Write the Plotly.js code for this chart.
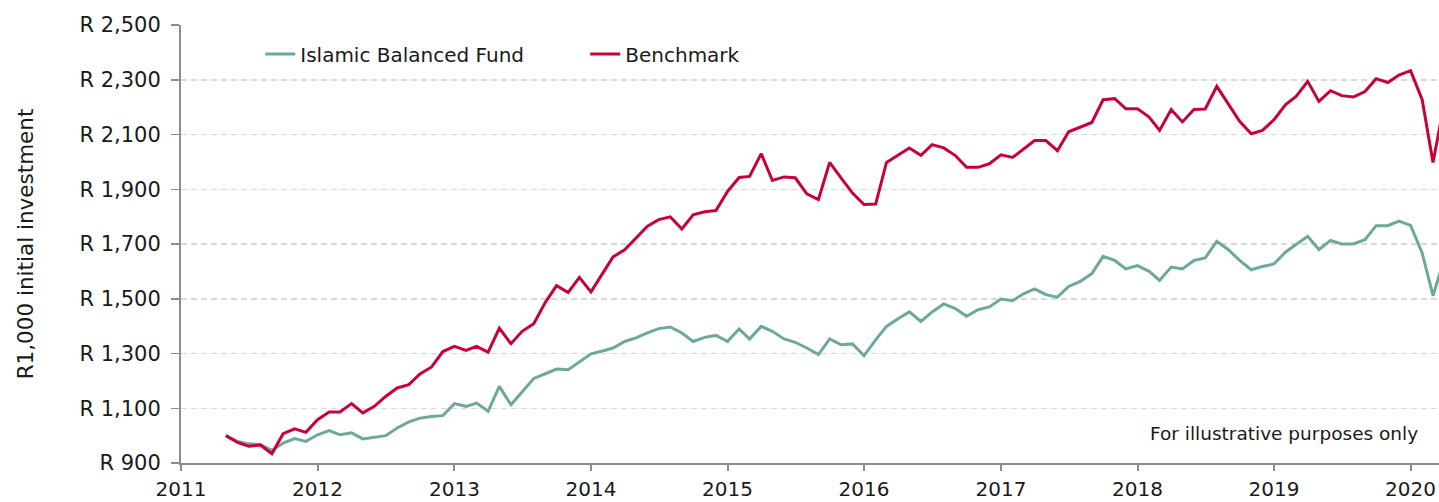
<!DOCTYPE html>
<html>
<head>
<meta charset="utf-8">
<script src="https://cdn.plot.ly/plotly-3.0.1.min.js"></script>
<style>
  html, body { margin: 0; padding: 0; background: #ffffff; }
  #chart { width: 1439px; height: 502px; }
</style>
</head>
<body>
<div id="chart"></div>
<script>
// Monthly series, May 2011 to April 2020
var startYear = 2011;
var startMonth = 5;

var fundName = "Islamic Balanced Fund";
var benchName = "Benchmark";

var fundValues = [
  1000, 979, 970, 967, 946, 973, 989, 979,
  1003, 1018, 1003, 1010, 988, 995, 1000, 1028, 1050, 1064, 1070, 1073,
  1117, 1107, 1119, 1089, 1180, 1113, 1162, 1209, 1226, 1243, 1241, 1271,
  1299, 1309, 1320, 1344, 1357, 1375, 1391, 1397, 1375, 1344, 1359, 1366,
  1344, 1390, 1353, 1399, 1381, 1353, 1341, 1320, 1296, 1353, 1332, 1335,
  1292, 1350, 1399, 1427, 1452, 1417, 1452, 1481, 1464, 1436, 1460, 1470,
  1499, 1493, 1517, 1536, 1515, 1506, 1545, 1563, 1592, 1655, 1640, 1609,
  1621, 1600, 1567, 1616, 1609, 1640, 1649, 1710, 1679, 1640, 1606, 1618,
  1627, 1671, 1697, 1728, 1679, 1713, 1700, 1700, 1716, 1767, 1767, 1784,
  1768, 1667, 1511, 1650
];

var benchValues = [
  1000, 975, 961, 966, 934, 1007, 1025, 1012,
  1058, 1086, 1086, 1117, 1083, 1107, 1143, 1174, 1186, 1225, 1251, 1307,
  1326, 1311, 1326, 1305, 1393, 1336, 1381, 1409, 1487, 1548, 1523, 1578,
  1525, 1594, 1653, 1679, 1722, 1765, 1789, 1799, 1755, 1807, 1818, 1822,
  1892, 1943, 1947, 2030, 1932, 1945, 1942, 1883, 1862, 1998, 1941, 1886,
  1844, 1846, 1998, 2026, 2051, 2024, 2063, 2051, 2023, 1980, 1980, 1993,
  2026, 2016, 2047, 2078, 2078, 2041, 2110, 2127, 2144, 2227, 2231, 2194,
  2194, 2164, 2115, 2191, 2146, 2191, 2193, 2276, 2213, 2148, 2103, 2115,
  2154, 2209, 2239, 2294, 2221, 2260, 2242, 2237, 2257, 2304, 2290, 2317,
  2333, 2227, 1998, 2220
];

var yTickValues = [900, 1100, 1300, 1500, 1700, 1900, 2100, 2300, 2500];
var yTickPrefix = "R ";
var yTitle = "R1,000 initial investment";
var noteText = "For illustrative purposes only";

// month dates for the x axis
var dates = [];
for (var i = 0; i < fundValues.length; i++) {
  var m0 = startMonth - 1 + i;
  var y = startYear + Math.floor(m0 / 12);
  var m = (m0 % 12) + 1;
  dates.push(y + "-" + (m < 10 ? "0" + m : m) + "-01");
}

// tick labels such as "R 2,500"
var yTickText = yTickValues.map(function (v) {
  return yTickPrefix + String(v).replace(/\B(?=(\d{3})+(?!\d))/g, ",");
});

var FONT = "DejaVu Sans, Verdana, sans-serif";
var GREEN = "#6CA99A";
var RED = "#C8003C";

var traces = [
  {
    x: dates, y: fundValues, name: fundName, type: "scatter", mode: "lines",
    line: { color: GREEN, width: 3 }
  },
  {
    x: dates, y: benchValues, name: benchName, type: "scatter", mode: "lines",
    line: { color: RED, width: 3 }
  }
];

var layout = {
  width: 1439,
  height: 502,
  margin: { l: 181, r: 0, t: 25, b: 39, pad: 0 },
  paper_bgcolor: "#ffffff",
  plot_bgcolor: "#ffffff",
  font: { family: FONT, size: 20, color: "#1a1a1a" },
  showlegend: true,
  legend: {
    orientation: "h",
    x: 0.063, y: 0.934,
    xanchor: "left", yanchor: "middle",
    bgcolor: "rgba(0,0,0,0)",
    font: { family: FONT, size: 20, color: "#1a1a1a" },
    entrywidth: 280,
    entrywidthmode: "pixels"
  },
  xaxis: {
    type: "date",
    range: ["2011-01-01", "2020-03-17"],
    tick0: "2011-01-01",
    dtick: "M12",
    tickformat: "%Y",
    showgrid: false,
    zeroline: false,
    showline: true,
    linecolor: "#8c8c8c",
    linewidth: 2,
    ticks: "outside",
    ticklen: 6,
    tickwidth: 2,
    tickcolor: "#8c8c8c",
    ticklabelstandoff: 1,
    tickfont: { family: FONT, size: 20, color: "#1a1a1a" },
    fixedrange: true
  },
  yaxis: {
    range: [900, 2500],
    tickmode: "array",
    tickvals: yTickValues,
    ticktext: yTickText,
    showgrid: true,
    gridcolor: "#d9d9d9",
    gridwidth: 1.5,
    griddash: "6px,4px",
    zeroline: false,
    showline: true,
    linecolor: "#8c8c8c",
    linewidth: 2,
    ticks: "outside",
    ticklen: 8,
    tickwidth: 1.5,
    tickcolor: "#8c8c8c",
    ticklabelstandoff: 6,
    tickfont: { family: FONT, size: 21, color: "#1a1a1a" },
    title: { text: yTitle, font: { family: FONT, size: 21.5, color: "#1a1a1a" }, standoff: 40 },
    fixedrange: true
  },
  annotations: [
    {
      text: noteText,
      xref: "paper", yref: "paper",
      x: 0.985, y: 0.068,
      xanchor: "right", yanchor: "middle",
      showarrow: false,
      font: { family: FONT, size: 18.5, color: "#1a1a1a" }
    }
  ]
};

Plotly.newPlot("chart", traces, layout, { displayModeBar: false, staticPlot: true });
</script>
</body>
</html>
